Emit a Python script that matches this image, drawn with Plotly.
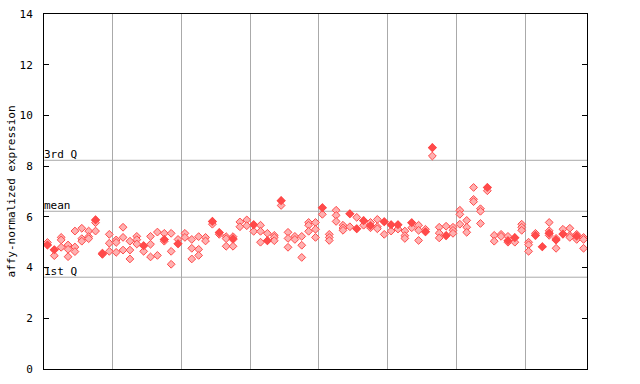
import plotly.graph_objects as go

# Per-sample replicate values (sample index = position along x)
sample_values = [
    [4.99, 4.89], [4.70, 4.47], [5.19, 5.09, 4.80], [4.89, 4.72, 4.43], [5.44, 4.81, 4.63],
    [5.55, 5.14, 5.04], [5.44, 5.22, 5.14], [5.88, 5.77, 5.44], [4.57, 4.52], [5.31, 4.96, 4.64],
    [5.09, 4.99, 4.60], [5.59, 5.19, 4.69], [5.04, 4.69, 4.34], [5.23, 5.10, 4.93], [4.86, 4.64],
    [5.23, 4.92, 4.42], [5.40, 4.48], [5.35, 5.11, 5.04], [5.35, 4.64, 4.13], [5.11, 4.94],
    [5.35, 5.19], [5.11, 4.76, 4.34], [5.22, 4.72, 4.48], [5.19, 5.05], [5.82, 5.71],
    [5.38, 5.31], [5.22, 5.14, 4.84], [5.22, 5.11, 4.84], [5.80, 5.61], [5.88, 5.65],
    [5.69, 5.43], [5.67, 5.43, 5.00], [5.35, 5.06], [5.27, 5.19, 5.06], [6.64, 6.45],
    [5.39, 5.15, 4.80], [5.23, 5.11], [5.23, 4.88, 4.40], [5.78, 5.67, 5.43], [5.78, 5.51, 5.19],
    [6.36, 6.10], [5.31, 5.19, 5.07], [6.26, 6.06, 5.82], [5.67, 5.56, 5.47], [6.12, 5.61],
    [5.98, 5.53], [5.85, 5.67], [5.78, 5.65, 5.57], [5.90, 5.61, 5.53], [5.81, 5.31],
    [5.69, 5.44], [5.69, 5.52], [5.44, 5.26, 5.15], [5.77, 5.57], [5.67, 5.47, 5.07],
    [5.51, 5.41], [8.73, 8.40], [5.59, 5.36, 5.17], [5.63, 5.26], [5.59, 5.47, 5.35],
    [6.26, 6.10, 5.71], [5.86, 5.59, 5.39], [7.16, 6.69, 6.60], [6.32, 6.22, 5.74], [7.16, 7.03],
    [5.27, 5.04], [5.31, 5.23], [5.23, 5.06, 5.00], [5.18, 5.00], [5.71, 5.59, 5.47],
    [5.00, 4.90, 4.64], [5.35, 5.27], [4.82], [5.78, 5.45, 5.35, 5.27], [5.15, 5.09, 4.76],
    [5.51, 5.32], [5.55, 5.27, 5.19], [5.31, 5.24, 5.11], [5.19, 5.11, 4.76],
]

# Densely overlapping (solid-looking) points: (sample index, value)
solid_idx = [0, 1, 7, 8, 14, 17, 19, 24, 25, 27, 30, 32, 34, 40, 44, 45, 46, 47, 49,
             50, 51, 53, 55, 56, 58, 64, 67, 68, 71, 72, 73, 74, 75, 77]
solid_val = [4.89, 4.70, 5.88, 4.55, 4.86, 5.11, 4.94, 5.82, 5.38, 5.14, 5.69, 5.06, 6.64,
             6.36, 6.12, 5.53, 5.85, 5.65, 5.81, 5.69, 5.69, 5.77, 5.41, 8.73, 5.26, 7.16,
             5.06, 5.18, 5.27, 4.82, 5.35, 5.09, 5.32, 5.24]

q3_value = 8.23
mean_value = 6.22
q1_value = 3.62
group_bounds = [9.5, 19.5, 29.5, 39.5, 49.5, 59.5, 69.5]
y_ticks = [0, 2, 4, 6, 8, 10, 12, 14]

xs, ys = [], []
for i, vals in enumerate(sample_values):
    for v in vals:
        xs.append(i)
        ys.append(v)

FONT = "DejaVu Sans Mono"
RED = "#ff4a4a"
GRID = "#aaaaaa"

fig = go.Figure()
fig.add_trace(go.Scatter(
    x=xs, y=ys, mode="markers",
    marker=dict(symbol="diamond", size=6, color="#ffb0b0", line=dict(color=RED, width=1)),
    hoverinfo="y", showlegend=False))
fig.add_trace(go.Scatter(
    x=solid_idx, y=solid_val, mode="markers",
    marker=dict(symbol="diamond", size=7, color=RED, line=dict(width=0)),
    hoverinfo="y", showlegend=False))

for val, label in [(q3_value, "3rd Q"), (mean_value, "mean"), (q1_value, "1st Q")]:
    fig.add_shape(type="line", xref="paper", x0=0, x1=1, yref="y", y0=val, y1=val,
                  line=dict(color=GRID, width=1), layer="below")
    fig.add_annotation(xref="paper", x=0, yref="y", y=val, text=label, showarrow=False,
                       xanchor="left", yanchor="bottom", xshift=-2, yshift=-3,
                       font=dict(family=FONT, size=11, color="black"))

n = len(sample_values)
fig.update_layout(
    width=640, height=384,
    margin=dict(l=44, r=53, t=14, b=15, autoexpand=False),
    paper_bgcolor="white", plot_bgcolor="white",
    font=dict(family=FONT, size=11, color="black"),
    xaxis=dict(range=[-0.5, n - 0.5], tickvals=group_bounds, showticklabels=False,
               ticks="", showgrid=True, gridcolor=GRID, gridwidth=1, zeroline=False,
               showline=True, linecolor="black", linewidth=1, mirror=True,
               automargin=False),
    yaxis=dict(range=[0, 14], tickvals=y_ticks, ticks="inside", ticklen=5,
               tickcolor="black", showgrid=False, zeroline=False,
               showline=True, linecolor="black", linewidth=1, mirror="ticks",
               automargin=False, ticklabelstandoff=8,
               title=dict(text="affy-normalized expression", font=dict(family=FONT, size=11),
                          standoff=1),
               tickfont=dict(family=FONT, size=11)),
)

fig.write_html("out.html", config={"displayModeBar": False},
               post_script="document.body.style.margin='0';")
